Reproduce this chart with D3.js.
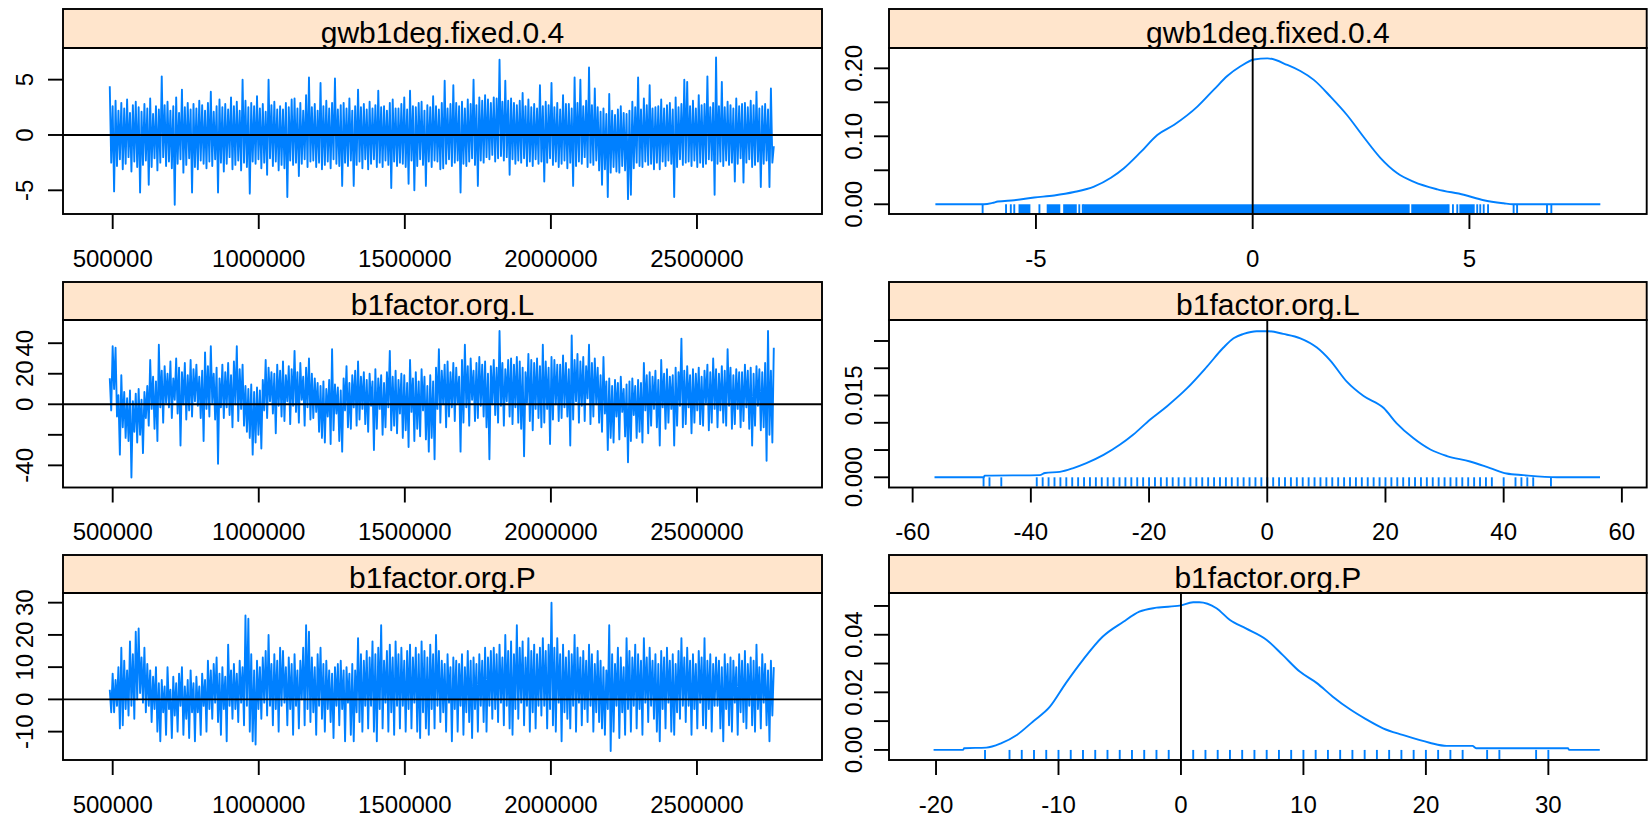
<!DOCTYPE html>
<html><head><meta charset="utf-8">
<script src="https://cdn.jsdelivr.net/npm/d3@7"></script>
<style>
body{margin:0;background:#fff}
svg{display:block}
text{font-family:"Liberation Sans",Arial,sans-serif;fill:#000}
</style>
</head><body>
<svg id="chart" width="1648" height="819"></svg>
<script>
// ---------------- data ----------------
const paramNames = ["gwb1deg.fixed.0.4", "b1factor.org.L", "b1factor.org.P"];
const iterStart = 490000, iterEnd = 2763000;

// sampled MCMC traces (read as the alternating upper / lower excursions of the chain)
const traceGwb = [
 4.4,-2.5,2.6,-5.1,3.1,-2.8,2.2,-2.2,2.9,-3.1,2.4,-2.6,3.2,-2.0,2.0,-3.3,2.7,-2.4,3.0,-2.9,
 2.5,-5.2,2.1,-2.7,2.8,-2.3,2.4,-4.5,3.3,-2.9,1.9,-2.1,2.6,-3.2,2.3,-2.5,5.3,-2.0,2.7,-2.8,
 3.0,-2.4,2.2,-3.0,2.6,-6.3,3.4,-2.6,2.0,-2.2,4.1,-3.4,2.5,-2.7,2.9,-2.1,2.3,-5.2,2.8,-2.9,
 2.4,-3.1,3.1,-2.3,2.7,-2.6,2.2,-3.0,2.9,-2.4,3.9,-2.8,2.1,-2.2,2.6,-5.2,3.2,-2.5,2.5,-3.3,
 2.8,-2.6,2.3,-2.0,3.4,-3.1,2.6,-2.7,3.0,-2.3,2.2,-3.2,5.0,-2.5,3.1,-2.9,2.5,-5.3,2.9,-2.4,
 2.6,-2.6,3.5,-2.2,2.4,-3.0,2.8,-2.5,2.1,-3.6,5.0,-2.1,2.7,-2.8,3.0,-2.4,2.3,-3.2,2.6,-2.7,
 2.3,-3.0,2.9,-5.6,2.5,-2.3,3.2,-2.7,3.3,-2.5,2.4,-3.7,2.9,-2.6,2.2,-2.2,3.6,-2.9,5.2,-2.4,
 2.5,-2.3,2.8,-2.9,2.2,-2.5,4.7,-3.1,2.6,-2.7,3.1,-2.4,2.4,-3.0,2.9,-2.2,5.1,-2.6,2.3,-2.8,
 2.7,-4.6,2.9,-2.5,2.4,-2.8,3.3,-2.3,2.2,-4.6,2.6,-2.7,4.1,-2.4,2.5,-3.0,2.8,-2.2,2.3,-3.1,
 3.0,-2.6,2.4,-2.2,2.7,-2.9,4.0,-2.5,2.5,-2.9,2.6,-2.3,2.2,-2.7,2.9,-4.8,3.2,-2.4,2.4,-2.8,
 2.4,-2.5,2.8,-2.6,3.4,-2.9,2.3,-4.4,4.0,-2.3,2.6,-5.0,2.5,-2.8,2.9,-2.2,3.0,-2.7,2.2,-4.6,
 2.7,-2.4,2.5,-2.9,3.5,-2.3,2.6,-2.4,2.3,-3.1,2.9,-3.0,4.9,-2.6,2.4,-2.2,2.8,-2.8,4.5,-2.5,
 2.9,-2.3,2.6,-5.2,3.0,-2.6,2.4,-2.8,3.2,-2.4,2.8,-2.1,5.0,-2.7,2.7,-4.6,3.4,-2.3,3.1,-2.5,
 3.6,-2.0,3.2,-2.2,2.9,-1.8,3.4,-2.4,3.3,-2.1,6.8,-1.9,3.0,-2.3,4.9,-2.0,3.1,-3.6,3.3,-2.2,
 2.9,-2.6,2.7,-2.3,3.1,-2.5,3.8,-2.1,2.6,-2.8,3.2,-2.4,2.5,-2.8,2.8,-2.2,2.4,-2.6,4.5,-2.4,
 2.6,-4.2,3.0,-2.5,2.7,-2.1,4.7,-2.7,2.5,-2.4,2.9,-2.9,2.3,-2.6,3.6,-2.3,2.8,-3.0,2.8,-2.5,
 2.4,-4.6,5.2,-2.8,2.9,-2.4,5.0,-2.6,2.6,-2.0,3.1,-2.9,6.1,-2.5,2.7,-2.7,4.2,-2.3,2.5,-3.2,
 2.1,-4.5,2.4,-3.1,1.9,-5.6,3.7,-3.4,2.2,-2.9,1.8,-3.3,2.3,-3.4,2.6,-2.8,2.0,-3.2,1.9,-5.8,
 2.2,-5.4,3.0,-3.0,2.5,-2.5,5.2,-2.8,2.3,-2.9,3.3,-2.4,2.7,-2.7,4.5,-2.6,2.4,-3.1,2.5,-2.5,
 2.6,-3.1,3.2,-2.4,2.4,-2.8,2.7,-2.3,2.9,-2.6,2.3,-5.6,3.4,-2.9,2.5,-2.2,2.8,-2.7,5.0,-2.5,
 4.8,-2.4,2.6,-2.8,3.1,-2.3,2.4,-2.9,3.6,-2.5,2.7,-2.9,2.8,-2.6,5.3,-2.2,2.5,-2.3,2.9,-5.4,
 7.0,-2.6,2.6,-2.4,4.8,-2.8,2.5,-2.3,3.0,-2.7,2.7,-2.5,2.4,-4.2,3.3,-2.6,2.6,-2.1,2.8,-4.3,
 2.9,-2.5,2.5,-2.2,3.1,-2.9,2.7,-2.7,3.9,-2.4,2.4,-4.7,2.6,-2.6,2.8,-2.3,2.3,-4.7,4.2,-2.5,
 -1.0
];

const traceL = [
 17,-4,38,10,37,-8,6,-33,19,-15,8,-22,4,-24,9,-48,2,-18,7,-25,
 10,-20,3,-32,8,-9,12,-14,29,-3,18,-16,15,-24,39,-2,22,-12,25,1,
 20,-2,28,-9,17,3,30,-6,24,-27,21,0,27,-10,19,-4,29,-8,23,2,
 26,-1,18,-9,22,-24,34,-3,25,-8,38,1,20,-10,24,-39,17,-2,26,-9,
 21,-2,27,-7,19,-15,28,0,38,-11,23,-3,26,-14,12,-18,10,-22,13,-33,
 8,-25,11,-20,9,-29,16,-4,29,-9,24,2,21,-6,20,-19,26,-1,22,-8,
 28,-11,19,2,25,-13,23,-1,35,-5,21,-12,27,3,18,-14,24,-2,30,-10,
 20,-9,17,-5,14,-18,12,-22,15,-25,10,-8,16,-26,36,-17,13,-6,11,-24,
 9,-31,17,-4,25,-15,14,-16,19,-2,22,-14,28,-10,18,-3,21,-13,16,-18,
 20,-1,15,-30,23,-16,17,-3,19,-20,14,-15,21,-2,35,-17,18,-14,22,-19,
 16,-6,20,-22,19,-17,14,-28,29,-5,17,-24,21,-16,15,-21,23,-4,18,-23,
 12,-31,19,-22,15,-36,24,-3,36,-12,22,0,26,-15,28,-8,21,-2,27,-11,
 24,1,18,-31,29,-12,39,-2,25,-14,30,3,22,-11,27,-9,31,-1,26,-8,
 28,-15,20,-36,25,0,29,-7,24,-12,48,-1,27,-14,23,2,29,-8,30,-13,
 26,-2,31,-12,28,-16,24,-34,21,1,33,-11,29,-17,27,-3,30,-9,25,-15,
 39,-12,28,-3,24,-26,31,-10,29,0,26,-11,26,-9,32,-2,27,-8,23,-27,
 45,-10,29,2,33,-12,28,-1,31,-11,25,4,39,-13,27,-8,30,0,24,-12,
 19,-18,31,-6,15,-30,17,-22,12,-25,16,-8,14,-23,18,-5,10,-21,13,-38,
 15,-24,17,-7,12,-22,16,-18,14,-25,27,-4,19,-19,21,-14,18,-3,22,-15,
 16,-27,29,-2,20,-16,23,-12,18,-3,19,-27,24,-14,21,-1,43,-15,22,-13,
 25,-2,19,-19,23,-12,20,-4,24,-13,18,-14,22,1,26,-17,21,-12,30,-3,
 23,-15,20,-4,25,-12,22,-14,36,-1,24,-16,19,-13,23,-3,21,-15,21,-11,
 26,-2,22,-16,24,-27,20,-14,25,-1,23,-17,21,-15,27,-37,48,-20,22,-25,
 37
];

const traceP = [
 3,-4,8,-4,6,-2,10,-9,16,-8,12,-3,9,-5,18,-2,14,-6,21,0,
 22,2,13,-1,16,-4,11,-2,9,-7,7,-3,10,-10,5,-13,6,-4,4,-11,
 10,-3,3,-12,7,-5,5,-10,8,-2,10,-11,4,-6,6,-12,9,-4,5,-13,
 7,-4,4,-11,8,-2,6,-10,12,-3,9,-6,11,-1,13,-7,8,-11,10,-3,
 7,-13,17,-2,9,-6,11,-3,8,-7,12,-1,10,-8,26,-2,25,-10,14,-13,
 9,-14,12,-3,10,-6,13,-1,15,-5,20,-2,11,-8,14,-3,12,-10,16,-2,
 15,-1,10,-8,13,-3,11,-11,14,-2,9,-9,12,0,16,-8,23,-3,21,-7,
 13,-4,10,-11,14,-2,16,-6,11,-10,12,-3,9,-7,8,-12,10,-2,11,-8,
 12,-3,9,-13,10,-1,8,-11,11,-13,9,-4,19,-7,14,-10,12,-2,15,-9,
 13,-2,18,-10,14,-13,16,-3,23,-9,12,-1,15,-10,17,-4,13,-11,18,-2,
 14,-9,16,-2,12,-10,15,-3,17,-9,13,-1,16,-10,14,-12,18,-4,15,-9,
 13,-11,17,-3,14,-9,20,-2,15,-7,12,-4,11,-10,14,-1,10,-13,13,-3,
 12,-10,11,-2,14,-11,10,-4,15,-7,12,-12,13,-3,11,-10,14,-2,12,-7,
 16,-10,13,-2,15,-6,16,-3,14,-7,17,-1,13,-8,20,-2,15,-9,18,-11,
 14,-3,23,-6,16,-1,18,-8,13,-2,19,-10,15,-4,17,-9,14,-2,16,-5,
 19,-2,15,-9,17,-3,30,-8,16,-10,19,-1,14,-13,17,-4,13,-6,15,-9,
 14,-2,20,-10,16,-1,13,-8,15,-3,12,-7,17,-2,14,-10,11,-4,15,-7,
 12,-9,10,-11,9,-3,23,-16,14,-10,11,-2,16,-12,13,-4,10,-11,19,-3,
 15,-10,13,-2,17,-9,14,-3,12,-11,19,-1,13,-7,16,-2,12,-6,14,-10,
 11,-13,15,-3,13,-9,16,-1,12,-10,14,-11,11,-4,15,-6,19,-2,13,-7,
 16,-2,12,-11,14,-3,11,-9,15,-1,13,-8,19,-9,12,-3,14,-10,11,-2,
 13,-2,12,-9,10,-13,14,-3,11,-8,13,-10,12,-1,10,-11,14,-4,12,-7,
 15,-9,11,-2,13,-8,12,-10,17,-3,10,-9,14,-1,11,-8,9,-13,12,-5,
 10
];

// kernel density curves: [value, density]
const densGwb = [[-7.32,0],[-6.2,0],[-6.0,0.002],[-5.88,0.004],[-5.5,0.006],[-5.04,0.010],[-4.58,0.013],
 [-4.12,0.018],[-3.66,0.026],[-3.27,0.039],[-2.97,0.053],[-2.58,0.077],[-2.2,0.102],[-1.81,0.117],
 [-1.27,0.144],[-0.89,0.169],[-0.58,0.189],[-0.28,0.203],[0.03,0.213],[0.34,0.2147],[0.8,0.205],
 [1.1,0.196],[1.41,0.183],[1.8,0.158],[2.18,0.131],[2.56,0.099],[2.95,0.068],[3.33,0.046],
 [3.72,0.033],[4.26,0.022],[4.87,0.014],[5.33,0.006],[5.79,0.0015],[6.0,0],[8.02,0]];
const densL = [[-56.3,0],[-48,0],[-47.8,0.0003],[-38.5,0.0004],[-37.6,0.0008],[-35.1,0.001],[-32.8,0.0017],
 [-30.6,0.0026],[-27.7,0.0041],[-24.9,0.006],[-22.7,0.0078],[-19.8,0.0106],[-17.0,0.013],[-13.6,0.0163],
 [-10.2,0.0203],[-7.4,0.0238],[-5.7,0.0255],[-4.0,0.0263],[-1.8,0.0268],[0.2,0.0268],[2.7,0.0263],
 [5.6,0.0255],[8.4,0.0238],[10.6,0.0215],[13.5,0.0175],[16.3,0.0149],[19.7,0.0127],[21.9,0.0099],
 [24.7,0.0072],[27.6,0.0051],[30.4,0.0039],[34.3,0.0029],[37.7,0.0017],[40.5,0.0007],[43.3,0.0004],
 [49,0],[56.3,0]];
const densP = [[-20.2,0],[-17.8,0],[-17.7,0.0006],[-15.9,0.0008],[-14.7,0.0023],[-13.4,0.0052],[-12.1,0.0098],
 [-10.7,0.015],[-9.4,0.0232],[-8.0,0.0313],[-6.4,0.0393],[-4.7,0.0445],[-3.4,0.048],[-2.0,0.0494],
 [-0.1,0.0501],[1.0,0.0513],[1.5,0.0513],[2.9,0.0492],[4.0,0.0451],[5.3,0.0422],[7.0,0.0382],
 [8.3,0.033],[9.7,0.0272],[11.1,0.0232],[12.4,0.0185],[13.8,0.0141],[15.1,0.0107],[16.5,0.0075],
 [18.1,0.0052],[20.3,0.0025],[21.7,0.0014],[23.8,0.0014],[24.1,0.0006],[31.6,0.0006],[31.7,0],[34.2,0]];

// rug marks
const rugGwbTicks = [-6.23,-5.69,-5.58,-5.5,-4.92,-4.0,-3.92,4.52,4.62,4.72,5.18,5.25,5.33,5.43,6.02,6.1,6.79,6.89];
const rugGwbSpans = [[-5.38,-5.15],[-4.73,-4.46],[-4.35,-4.08],[-3.89,3.6],[3.68,4.49],[4.79,5.1]];
const rugL = [-48,-47,-45,-39,-38,-37,-36,-35,-34,-33,-32,-31,-30,-29,-28,-27,-26,-25,-24,-23,-22,-21,
 -20,-19,-18,-17,-16,-15,-14,-13,-12,-11,-10,-9,-8,-7,-6,-5,-4,-3,-2,-1,0,1,2,3,4,5,6,7,8,9,10,
 11,12,13,14,15,16,17,18,19,20,21,22,23,24,25,26,27,28,29,30,31,32,33,34,35,36,37,38,40,42,43,44,45,48];
const rugP = [-16,-14,-13,-12,-11,-10,-9,-8,-7,-6,-5,-4,-3,-2,-1,0,1,2,3,4,5,6,7,8,9,10,11,12,13,14,15,
 16,17,18,19,20,21,22,23,25,26,29,30];

// axis ticks and labels
const iterTicks = [500000, 1000000, 1500000, 2000000, 2500000];
const traceYTicks = [[-5,0,5], [-40,-20,0,20,40], [-10,0,10,20,30]];
const densXTicks = [[-5,0,5], [-60,-40,-20,0,20,40,60], [-20,-10,0,10,20,30]];
const densYTicks = [[0,0.05,0.10,0.15,0.20], [0,0.005,0.010,0.015,0.020,0.025], [0,0.01,0.02,0.03,0.04,0.05]];
const densYLabels = [["0.00","0.05","0.10","0.15","0.20"],
                     ["0.000","0.005","0.010","0.015","0.020","0.025"],
                     ["0.00","0.01","0.02","0.03","0.04","0.05"]];

// ---------------- layout ----------------
const BLUE = "#0080ff", STRIP = "#ffe5cc", LW = 1.9;
const cols = [{x0:63, x1:822, ylab:33}, {x0:889, x1:1646.7, ylab:862}];
const rows = [{s:9, t:48, b:214}, {s:282, t:320, b:487.5}, {s:555, t:593, b:760}];
const traceXDomain = [329900, 2928000];
const traceYDomains = [[-7.14,7.86], [-54.5,55.2], [-18.8,33.0]];
const densXDomains = [[-8.39,9.09], [-64.0,64.2], [-23.84,38.03]];
const densYDomains = [[-0.0143,0.2299], [-0.00187,0.02885], [-0.0035,0.0545]];

const traces = [traceGwb, traceL, traceP];
const dens = [densGwb, densL, densP];
const rugs = [rugGwbTicks, rugL, rugP];
const rugSpans = [rugGwbSpans, [], []];

const svg = d3.select("#chart");
const TICK_FS = 24, STRIP_FS = 30, TICK_LEN = 15;

function strip(col, row, label) {
  svg.append("rect").attr("x", col.x0).attr("y", row.s)
     .attr("width", col.x1 - col.x0).attr("height", row.t - row.s)
     .attr("fill", STRIP).attr("stroke", "#000").attr("stroke-width", LW);
  svg.append("text").attr("x", (col.x0 + col.x1) / 2).attr("y", row.t - 5.5)
     .attr("text-anchor", "middle").attr("font-size", STRIP_FS).text(label);
}
function frame(col, row) {
  svg.append("rect").attr("x", col.x0).attr("y", row.t)
     .attr("width", col.x1 - col.x0).attr("height", row.b - row.t)
     .attr("fill", "none").attr("stroke", "#000").attr("stroke-width", LW);
}
// draws labels, dropping any that overlap an already drawn one (like lattice check.overlap)
function yAxis(col, row, y, ticks, labels) {
  const g = svg.append("g");
  ticks.forEach(t => g.append("line").attr("x1", col.x0 - TICK_LEN).attr("x2", col.x0)
     .attr("y1", y(t)).attr("y2", y(t)).attr("stroke", "#000").attr("stroke-width", LW));
  const kept = [];
  ticks.forEach((t, i) => {
    const tx = g.append("text").attr("font-size", TICK_FS).attr("text-anchor", "middle")
      .attr("transform", `translate(${col.ylab},${y(t)}) rotate(-90)`).text(labels[i]);
    const L = tx.node().getComputedTextLength();
    const lo = y(t) - L / 2, hi = y(t) + L / 2;
    if (kept.some(k => lo < k[1] && hi > k[0])) tx.remove(); else kept.push([lo, hi]);
  });
}
function xAxis(col, row, x, ticks, labels) {
  const g = svg.append("g");
  ticks.forEach(t => g.append("line").attr("x1", x(t)).attr("x2", x(t))
     .attr("y1", row.b).attr("y2", row.b + TICK_LEN).attr("stroke", "#000").attr("stroke-width", LW));
  const kept = [];
  ticks.forEach((t, i) => {
    const tx = g.append("text").attr("font-size", TICK_FS).attr("text-anchor", "middle")
      .attr("x", x(t)).attr("y", row.b + 52.5).text(labels[i]);
    const L = tx.node().getComputedTextLength();
    const lo = x(t) - L / 2, hi = x(t) + L / 2;
    if (kept.some(k => lo < k[1] && hi > k[0])) tx.remove(); else kept.push([lo, hi]);
  });
}

rows.forEach((row, r) => {
  // ---- trace panel ----
  const cl = cols[0];
  const x = d3.scaleLinear().domain(traceXDomain).range([cl.x0, cl.x1]);
  const y = d3.scaleLinear().domain(traceYDomains[r]).range([row.b, row.t]);
  const data = traces[r];
  const iter = i => iterStart + i * (iterEnd - iterStart) / (data.length - 1);
  strip(cl, row, paramNames[r]);
  svg.append("path").datum(data)
     .attr("d", d3.line().x((d, i) => x(iter(i))).y(d => y(d)))
     .attr("fill", "none").attr("stroke", BLUE).attr("stroke-width", LW).attr("stroke-linejoin", "round");
  svg.append("line").attr("x1", cl.x0).attr("x2", cl.x1).attr("y1", y(0)).attr("y2", y(0))
     .attr("stroke", "#000").attr("stroke-width", LW);
  frame(cl, row);
  yAxis(cl, row, y, traceYTicks[r], traceYTicks[r].map(String));
  xAxis(cl, row, x, iterTicks, iterTicks.map(String));

  // ---- density panel ----
  const cr = cols[1];
  const dx = d3.scaleLinear().domain(densXDomains[r]).range([cr.x0, cr.x1]);
  const dy = d3.scaleLinear().domain(densYDomains[r]).range([row.b, row.t]);
  strip(cr, row, paramNames[r]);
  svg.append("g").selectAll("line").data(rugs[r]).join("line")
     .attr("x1", d => dx(d)).attr("x2", d => dx(d)).attr("y1", dy(0)).attr("y2", row.b - 1)
     .attr("stroke", BLUE).attr("stroke-width", LW);
  svg.append("g").selectAll("rect").data(rugSpans[r]).join("rect")
     .attr("x", d => dx(d[0]) - LW / 2).attr("width", d => dx(d[1]) - dx(d[0]) + LW)
     .attr("y", dy(0)).attr("height", row.b - 1 - dy(0)).attr("fill", BLUE);
  svg.append("path").datum(dens[r])
     .attr("d", d3.line().x(d => dx(d[0])).y(d => dy(d[1])).curve(d3.curveMonotoneX))
     .attr("fill", "none").attr("stroke", BLUE).attr("stroke-width", LW);
  svg.append("line").attr("x1", dx(0)).attr("x2", dx(0)).attr("y1", row.t).attr("y2", row.b)
     .attr("stroke", "#000").attr("stroke-width", LW);
  frame(cr, row);
  yAxis(cr, row, dy, densYTicks[r], densYLabels[r]);
  xAxis(cr, row, dx, densXTicks[r], densXTicks[r].map(String));
});
</script>
</body></html>
